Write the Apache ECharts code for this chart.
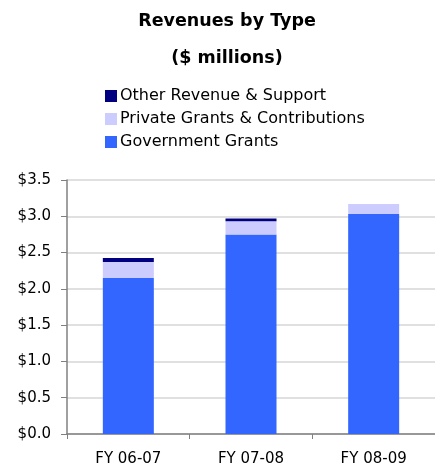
<!DOCTYPE html>
<html>
<head>
<meta charset="utf-8">
<script src="https://cdn.jsdelivr.net/npm/echarts@6/dist/echarts.min.js"></script>
<style>
  html, body { margin: 0; padding: 0; background: #fff; }
  #chart { width: 435px; height: 467px; }
</style>
</head>
<body>
<div id="chart"></div>
<script>
// Fiscal years on the category axis
const categories = ['FY 06-07', 'FY 07-08', 'FY 08-09'];

// Revenue components, $ millions
const governmentGrants = [2.15, 2.75, 3.03];
const privateGrants = [0.22, 0.18, 0.14];
const otherRevenue = [0.055, 0.04, 0];

// Value axis ticks
const yMin = 0;
const yMax = 3.5;
const yStep = 0.5;

const chart = echarts.init(document.getElementById('chart'));

const labelFont = '"DejaVu Sans", sans-serif';

chart.setOption({
  animation: false,
  title: {
    text: 'Revenues by Type\n\n($ millions)',
    left: 222,
    textAlign: 'center',
    top: 7,
    textStyle: {
      fontFamily: '"DejaVu Sans", sans-serif',
      fontWeight: 'bold',
      fontSize: 17.5,
      lineHeight: 18.5,
      color: '#000'
    }
  },
  legend: {
    orient: 'vertical',
    left: 100,
    top: 83,
    itemWidth: 12,
    itemHeight: 12,
    itemGap: 7,
    itemStyle: { borderWidth: 0 },
    icon: 'rect',
    data: ['Other Revenue & Support', 'Private Grants & Contributions', 'Government Grants'],
    textStyle: { fontFamily: labelFont, fontSize: 16, lineHeight: 16, color: '#000', padding: [0, 0, 0, -2] }
  },
  grid: { left: 67, top: 180, width: 373, height: 254, containLabel: false },
  xAxis: {
    type: 'category',
    data: categories,
    axisLine: { lineStyle: { color: '#808080', width: 1.5 } },
    axisTick: { show: true, length: 5, lineStyle: { color: '#808080' } },
    axisLabel: { fontFamily: labelFont, fontSize: 15, color: '#000', margin: 18 }
  },
  yAxis: {
    type: 'value',
    min: yMin,
    max: yMax,
    interval: yStep,
    axisLine: { show: true, lineStyle: { color: '#808080', width: 1.5 } },
    axisTick: { show: true, length: 6, lineStyle: { color: '#808080' } },
    splitLine: { lineStyle: { color: '#d6d6d6', width: 1.5 } },
    axisLabel: {
      fontFamily: labelFont,
      fontSize: 15,
      color: '#000',
      margin: 16,
      formatter: v => '$' + v.toFixed(1)
    }
  },
  series: [
    {
      name: 'Government Grants',
      type: 'bar',
      stack: 'rev',
      barWidth: 51,
      data: governmentGrants,
      itemStyle: { color: '#3366FF' }
    },
    {
      name: 'Private Grants & Contributions',
      type: 'bar',
      stack: 'rev',
      data: privateGrants,
      itemStyle: { color: '#CCCCFF' }
    },
    {
      name: 'Other Revenue & Support',
      type: 'bar',
      stack: 'rev',
      data: otherRevenue,
      itemStyle: { color: '#000080' }
    }
  ]
});
</script>
</body>
</html>
